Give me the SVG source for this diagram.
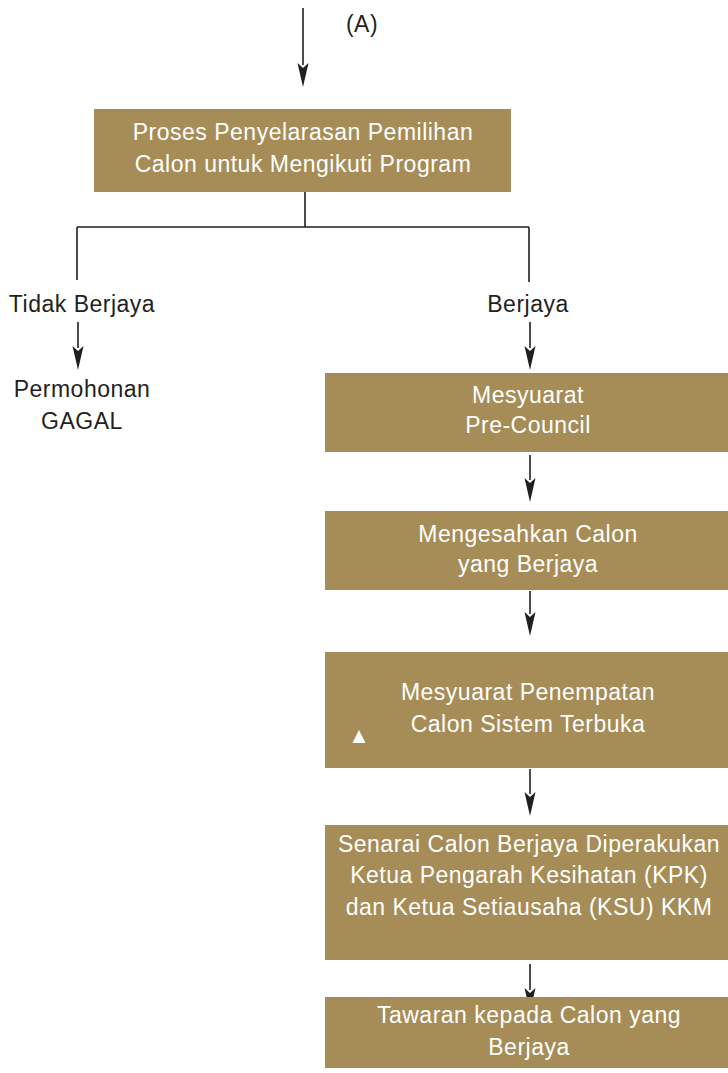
<svg xmlns="http://www.w3.org/2000/svg" width="728" height="1073" viewBox="0 0 728 1073">
<style>
.box{fill:#A68D58}
.wt{fill:#ffffff;font-family:"Liberation Sans",Arial,sans-serif;font-size:23px;letter-spacing:0.5px;text-anchor:middle}
.bt{fill:#231F20;font-family:"Liberation Sans",Arial,sans-serif;font-size:23px;letter-spacing:0.5px;text-anchor:middle}
.ln{stroke:#231F20;stroke-width:1.6;fill:none}
.ah{fill:#231F20}
</style>
<rect width="728" height="1073" fill="#ffffff"/>
<g id="connectors">
<path class="ln" d="M303,8 V65"/>
<path class="ah" d="M297.5,63 L303,68 L308.5,63 L303,87 Z"/>
<path class="ln" d="M305,192 V227 M77,227 H529 M77,227 V280 M529,227 V282"/>
<path class="ln" d="M78,322 V348"/>
<path class="ah" d="M72.5,346 L78,351 L83.5,346 L78,370 Z"/>
<path class="ln" d="M530,322 V348"/>
<path class="ah" d="M524.5,346 L530,351 L535.5,346 L530,370 Z"/>
<path class="ln" d="M530,455 V480"/>
<path class="ah" d="M524.5,478 L530,483 L535.5,478 L530,502 Z"/>
<path class="ln" d="M530,591 V614"/>
<path class="ah" d="M524.5,612 L530,617 L535.5,612 L530,636 Z"/>
<path class="ln" d="M530,769 V794"/>
<path class="ah" d="M524.5,792 L530,797 L535.5,792 L530,816 Z"/>
<path class="ln" d="M530,964 V990"/>
<path class="ah" d="M524.5,988 L530,993 L535.5,988 L530,1012 Z"/>
</g>
<text class="bt" x="362" y="32">(A)</text>
<g id="n1">
<rect class="box" x="94" y="109" width="417" height="83"/>
<text class="wt" x="303" y="140">Proses Penyelarasan Pemilihan</text>
<text class="wt" x="303" y="172">Calon untuk Mengikuti Program</text>
</g>
<g id="n-tidak">
<text class="bt" x="82" y="312">Tidak Berjaya</text>
</g>
<g id="n-gagal">
<text class="bt" x="82" y="397">Permohonan</text>
<text class="bt" x="82" y="429">GAGAL</text>
</g>
<g id="n-berjaya">
<text class="bt" x="528" y="312">Berjaya</text>
</g>
<g id="n2">
<rect class="box" x="325" y="373" width="403" height="79"/>
<text class="wt" x="528" y="403">Mesyuarat</text>
<text class="wt" x="528" y="433">Pre-Council</text>
</g>
<g id="n3">
<rect class="box" x="325" y="511" width="403" height="79"/>
<text class="wt" x="528" y="542">Mengesahkan Calon</text>
<text class="wt" x="528" y="572">yang Berjaya</text>
</g>
<g id="n4">
<rect class="box" x="325" y="652" width="403" height="116"/>
<text class="wt" x="528" y="700">Mesyuarat Penempatan</text>
<text class="wt" x="528" y="732">Calon Sistem Terbuka</text>
<path d="M359,730 L365.5,743 L352.5,743 Z" fill="#ffffff"/>
</g>
<g id="n5">
<rect class="box" x="325" y="825" width="403" height="135"/>
<text class="wt" x="529" y="852">Senarai Calon Berjaya Diperakukan</text>
<text class="wt" x="529" y="883">Ketua Pengarah Kesihatan (KPK)</text>
<text class="wt" x="529" y="915">dan Ketua Setiausaha (KSU) KKM</text>
</g>
<g id="n6">
<rect class="box" x="325" y="997" width="403" height="71"/>
<text class="wt" x="529" y="1023">Tawaran kepada Calon yang</text>
<text class="wt" x="529" y="1055">Berjaya</text>
</g>
</svg>
